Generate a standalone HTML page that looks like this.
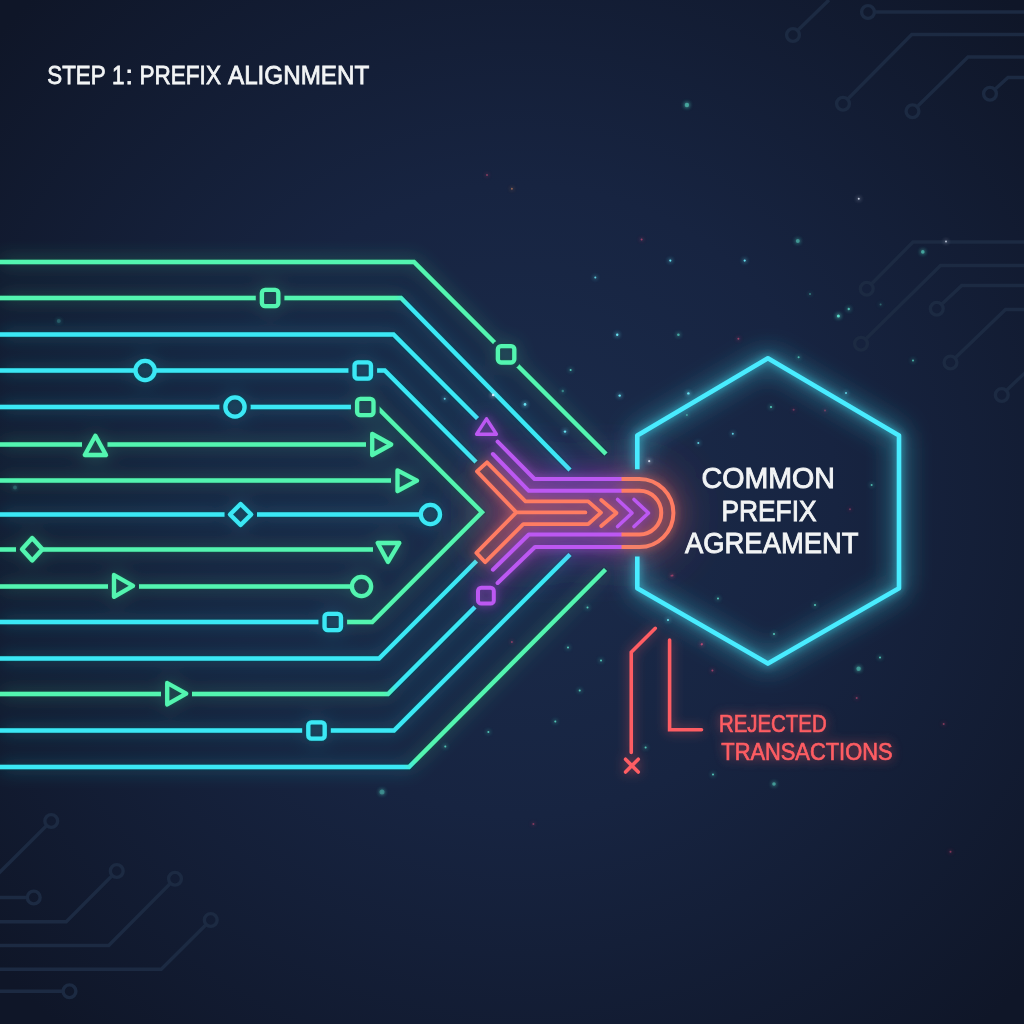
<!DOCTYPE html>
<html><head><meta charset="utf-8">
<style>
html,body{margin:0;padding:0;background:#141c2f;}
body{width:1024px;height:1024px;overflow:hidden;position:relative;}
svg{position:absolute;left:0;top:0;}
.t{font-family:"Liberation Sans",sans-serif;}
</style></head><body>
<svg width="1024" height="1024" viewBox="0 0 1024 1024">
<defs>
<radialGradient id="bg" cx="520" cy="500" r="700" gradientUnits="userSpaceOnUse">
<stop offset="0" stop-color="#1b2c4c"/>
<stop offset="0.45" stop-color="#172441"/>
<stop offset="1" stop-color="#0f1628"/>
</radialGradient>
<filter id="glow" x="-20%" y="-20%" width="140%" height="140%">
<feGaussianBlur in="SourceGraphic" stdDeviation="9" result="b1"/>
<feComponentTransfer in="b1" result="b"><feFuncA type="linear" slope="0.45"/></feComponentTransfer>
<feMorphology in="SourceAlpha" operator="dilate" radius="1.2" result="d"/>
<feFlood flood-color="#0e1628" flood-opacity="0.35"/>
<feComposite in2="d" operator="in" result="dk"/>
<feMerge><feMergeNode in="b"/><feMergeNode in="dk"/><feMergeNode in="SourceGraphic"/></feMerge>
</filter>
<filter id="glowC" x="-30%" y="-30%" width="160%" height="160%">
<feGaussianBlur in="SourceGraphic" stdDeviation="4" result="b1"/>
<feGaussianBlur in="SourceGraphic" stdDeviation="12" result="b2"/>
<feComponentTransfer in="b1" result="b1a"><feFuncA type="linear" slope="0.55"/></feComponentTransfer>
<feComponentTransfer in="b2" result="b3"><feFuncA type="linear" slope="0.7"/></feComponentTransfer>
<feMerge><feMergeNode in="b3"/><feMergeNode in="b1a"/><feMergeNode in="SourceGraphic"/></feMerge>
</filter>
<filter id="glowH" x="-20%" y="-20%" width="140%" height="140%">
<feGaussianBlur in="SourceGraphic" stdDeviation="4" result="b1"/>
<feGaussianBlur in="SourceGraphic" stdDeviation="13" result="b2"/>
<feComponentTransfer in="b1" result="b1a"><feFuncA type="linear" slope="0.7"/></feComponentTransfer>
<feComponentTransfer in="b2" result="b2a"><feFuncA type="linear" slope="1.4"/></feComponentTransfer>
<feMerge><feMergeNode in="b2a"/><feMergeNode in="b1a"/><feMergeNode in="SourceGraphic"/></feMerge>
</filter>
<filter id="glowR" x="-30%" y="-30%" width="160%" height="160%">
<feGaussianBlur in="SourceGraphic" stdDeviation="6" result="b1"/>
<feComponentTransfer in="b1" result="b"><feFuncA type="linear" slope="0.6"/></feComponentTransfer>
<feMerge><feMergeNode in="b"/><feMergeNode in="SourceGraphic"/></feMerge>
</filter>
<linearGradient id="g2" gradientUnits="userSpaceOnUse" x1="395" y1="298" x2="409" y2="306"><stop offset="0" stop-color="#52f5b0"/><stop offset="1" stop-color="#3ae8f5"/></linearGradient>
<linearGradient id="g13" gradientUnits="userSpaceOnUse" x1="384" y1="694" x2="398" y2="686"><stop offset="0" stop-color="#52f5b0"/><stop offset="1" stop-color="#3ae8f5"/></linearGradient>
<linearGradient id="g15" gradientUnits="userSpaceOnUse" x1="403" y1="767" x2="417" y2="759"><stop offset="0" stop-color="#3ae8f5"/><stop offset="1" stop-color="#52f5b0"/></linearGradient>
<filter id="nul" x="-5%" y="-20%" width="110%" height="140%"><feOffset dx="0" dy="0"/></filter>
<filter id="haze" x="-100%" y="-100%" width="300%" height="300%">
<feGaussianBlur stdDeviation="24"/>
</filter>
<filter id="dotg" x="-300%" y="-300%" width="700%" height="700%">
<feGaussianBlur in="SourceGraphic" stdDeviation="2" result="b"/>
<feMerge><feMergeNode in="b"/><feMergeNode in="b"/><feMergeNode in="SourceGraphic"/></feMerge>
</filter>
<mask id="m1" maskUnits="userSpaceOnUse" x="0" y="0" width="1024" height="1024">
<rect x="0" y="0" width="1024" height="1024" fill="white"/>
<rect x="261.90" y="289.80" width="16.4" height="16.4" rx="3.2" fill="black" stroke="black" stroke-width="12.3"/>
<rect x="497.9" y="346.1" width="16.4" height="16.4" rx="3.2" fill="black" stroke="black" stroke-width="13"/>
<circle cx="145.1" cy="370.5" r="9.6" fill="black" stroke="black" stroke-width="0"/>
<rect x="354.55" y="362.30" width="16.4" height="16.4" rx="3.2" fill="black" stroke="black" stroke-width="12.3"/>
<circle cx="235" cy="407" r="9.6" fill="black" stroke="black" stroke-width="12.3"/>
<rect x="357.10" y="398.80" width="16.4" height="16.4" rx="3.2" fill="black" stroke="black" stroke-width="12.3"/>
<polygon points="95.4,435.8 106,455 84.8,455" fill="black"/>
<rect x="82" y="438" width="25.5" height="13" fill="black"/>
<polygon points="372.2,434 391.2,444.5 372.2,455" fill="black"/>
<rect x="366" y="438" width="26" height="13" fill="black"/>
<polygon points="397.5,470.4 417,480.7 397.5,491" fill="black"/>
<rect x="391" y="474" width="27" height="13" fill="black"/>
<polygon points="240.6,504 251.2,514.5 240.6,525 230,514.5" fill="black"/>
<rect x="224.5" y="508" width="32.5" height="13" fill="black"/>
<circle cx="430.4" cy="514.5" r="9.6" fill="black" stroke="black" stroke-width="0"/>
<polygon points="32.2,538 42.4,549.3 32.2,560.5 22,549.3" fill="black"/>
<rect x="16" y="543" width="14" height="13" fill="black"/>
<polygon points="377.7,543 399.3,543 388,562" fill="black"/>
<rect x="373" y="543" width="31" height="13" fill="black"/>
<polygon points="114,575 133,585.9 114,596.8" fill="black"/>
<rect x="108" y="580" width="31" height="13" fill="black"/>
<circle cx="361.5" cy="586.5" r="9.6" fill="black" stroke="black" stroke-width="0"/>
<rect x="324.55" y="613.80" width="16.4" height="16.4" rx="3.2" fill="black" stroke="black" stroke-width="12.3"/>
<polygon points="167.2,683 186.2,693.7 167.2,704.4" fill="black"/>
<rect x="161" y="687" width="31" height="13" fill="black"/>
<rect x="308.30" y="722.30" width="16.4" height="16.4" rx="3.2" fill="black" stroke="black" stroke-width="12.3"/>
</mask>
</defs>
<rect width="1024" height="1024" fill="url(#bg)"/>
<g fill="none" stroke="#1c2a42" stroke-width="3.4">
<path d="M797.59,30.54 L829.00,0.00"/><path d="M874.40,12.00 L1030.00,12.00"/><path d="M847.51,99.21 L911.75,34.50 L1030.00,34.50"/><path d="M917.08,106.78 L968.00,57.00 L1030.00,57.00"/><path d="M994.75,89.46 L1008.00,77.50 L1030.00,77.50"/><path d="M871.25,284.20 L913.00,242.00 L1030.00,242.00"/><path d="M865.56,339.26 L940.50,265.50 L1030.00,265.50"/><path d="M941.44,304.39 L961.75,285.50 L1030.00,285.50"/><path d="M955.11,358.06 L1005.50,309.50 L1030.00,309.50"/><path d="M1006.38,390.58 L1030.00,368.00"/><path d="M46.71,825.52 L-5.00,877.00"/><path d="M27.35,897.50 L-5.00,897.50"/><path d="M112.24,875.54 L66.25,921.75 L-5.00,921.75"/><path d="M170.49,883.29 L108.75,945.50 L-5.00,945.50"/><path d="M206.21,924.51 L161.25,969.25 L-5.00,969.25"/><path d="M63.10,991.25 L-5.00,991.25"/>
<circle cx="793" cy="35" r="6.4"/><circle cx="868" cy="12" r="6.4"/><circle cx="843" cy="103.75" r="6.4"/><circle cx="912.5" cy="111.25" r="6.4"/><circle cx="990" cy="93.75" r="6.4"/><circle cx="866.75" cy="288.75" r="6.4"/><circle cx="861" cy="343.75" r="6.4"/><circle cx="936.75" cy="308.75" r="6.4"/><circle cx="950.5" cy="362.5" r="6.4"/><circle cx="1001.75" cy="395" r="6.4"/><circle cx="51.25" cy="821" r="6.4"/><circle cx="33.75" cy="897.5" r="6.4"/><circle cx="116.75" cy="871" r="6.4"/><circle cx="175" cy="878.75" r="6.4"/><circle cx="210.75" cy="920" r="6.4"/><circle cx="69.5" cy="991.25" r="6.4"/>
</g>
<g filter="url(#haze)">
<rect x="490" y="470" width="150" height="85" rx="40" fill="#6a35a0" opacity="0.45"/>
<rect x="600" y="468" width="80" height="90" rx="40" fill="#a04060" opacity="0.45"/>
<rect x="480" y="470" width="60" height="90" rx="20" fill="#a04050" opacity="0.35"/>
</g>
<g filter="url(#glow)" fill="none" stroke-width="4.3" stroke-linecap="butt" stroke-linejoin="miter">
<g mask="url(#m1)">
<path d="M-5,262 H414 L606,454" stroke="#52f5b0"/><path d="M-5,298 H401 L570,470" stroke="url(#g2)"/><path d="M-5,334.5 H393.5 L477.5,418.5" stroke="#3ae8f5"/><path d="M-5,370.5 H384.75 L476,462" stroke="#3ae8f5"/><path d="M-5,407 H365" stroke="#3ae8f5"/><path d="M365,407 H376.8 L482,512.2 L372.2,622 H333" stroke="#52f5b0"/><path d="M333,622 H-5" stroke="#3ae8f5"/><path d="M-5,444.5 H381" stroke="#52f5b0"/><path d="M-5,480.5 H406" stroke="#52f5b0"/><path d="M-5,514.5 H430" stroke="#3ae8f5"/><path d="M-5,549.5 H388" stroke="#52f5b0"/><path d="M-5,586.5 H361" stroke="#52f5b0"/><path d="M-5,658.5 H379 L476.5,561" stroke="#3ae8f5"/><path d="M-5,694 H388 L475,607" stroke="url(#g13)"/><path d="M-5,730.5 H394 L570,554.5" stroke="#3ae8f5"/><path d="M-5,767 H409 L605.5,569.5" stroke="url(#g15)"/>
</g>
<rect x="261.90" y="289.80" width="16.4" height="16.4" rx="3.2" stroke="#52f5b0" stroke-linejoin="round"/><rect x="497.9" y="346.1" width="16.4" height="16.4" rx="3.2" stroke="#52f5b0" stroke-linejoin="round"/><circle cx="145.1" cy="370.5" r="9.6" stroke="#3ae8f5" stroke-linejoin="round"/><rect x="354.55" y="362.30" width="16.4" height="16.4" rx="3.2" stroke="#3ae8f5" stroke-linejoin="round"/><circle cx="235" cy="407" r="9.6" stroke="#3ae8f5" stroke-linejoin="round"/><rect x="357.10" y="398.80" width="16.4" height="16.4" rx="3.2" stroke="#52f5b0" stroke-linejoin="round"/><polygon points="95.4,435.8 106,455 84.8,455" stroke="#52f5b0" stroke-linejoin="round"/><polygon points="372.2,434 391.2,444.5 372.2,455" stroke="#52f5b0" stroke-linejoin="round"/><polygon points="397.5,470.4 417,480.7 397.5,491" stroke="#52f5b0" stroke-linejoin="round"/><polygon points="240.6,504 251.2,514.5 240.6,525 230,514.5" stroke="#3ae8f5" stroke-linejoin="round"/><circle cx="430.4" cy="514.5" r="9.6" stroke="#3ae8f5" stroke-linejoin="round"/><polygon points="32.2,538 42.4,549.3 32.2,560.5 22,549.3" stroke="#52f5b0" stroke-linejoin="round"/><polygon points="377.7,543 399.3,543 388,562" stroke="#52f5b0" stroke-linejoin="round"/><polygon points="114,575 133,585.9 114,596.8" stroke="#52f5b0" stroke-linejoin="round"/><circle cx="361.5" cy="586.5" r="9.6" stroke="#52f5b0" stroke-linejoin="round"/><rect x="324.55" y="613.80" width="16.4" height="16.4" rx="3.2" stroke="#3ae8f5" stroke-linejoin="round"/><polygon points="167.2,683 186.2,693.7 167.2,704.4" stroke="#52f5b0" stroke-linejoin="round"/><rect x="308.30" y="722.30" width="16.4" height="16.4" rx="3.2" stroke="#3ae8f5" stroke-linejoin="round"/>
</g>
<g filter="url(#glowC)" fill="none" stroke-width="4" stroke-linecap="round" stroke-linejoin="round">
<path d="M497.6,441.6 L534.5,479 H621.5 M492.9,454 L528.8,490.8 H621.5 M492.9,569.7 L528.8,534.5 H621.5 M497.6,583 L535,547 H621.5" stroke="#bc58f2"/>
<polygon points="486.5,418.8 496.4,434.2 476.6,434.2" stroke-width="3.4" stroke="#bc58f2"/><rect x="478" y="587.8" width="15.8" height="15.8" rx="3.2" stroke="#bc58f2"/>
<path d="M621.5,479 H639.4 A34,34 0 0 1 639.4,547 H621.5 M621.5,490.8 H639.4 A21.85,21.85 0 0 1 639.4,534.5 H621.5" stroke="#ff7b62" stroke-linecap="butt"/>
<path d="M487,462.3 L525.5,501.3 H588.2 L601,512.6 L588.2,524.1 H523.3 L485.2,562.2 L476.4,552.9 L516.3,512.4 L477,471.4 Z M516.3,512.4 H585.4" stroke="#ff7b62" stroke-width="3.8"/>
<path d="M601.2,500 L616.5,513 L601.2,526" stroke="#ff7b62" stroke-width="3.8"/>
<path d="M617.6,499.5 L632,513 L617.6,526.5 M634,499.5 L648.5,513 L634,526.5" stroke="#bc58f2" stroke-width="3.6"/>
</g>
<g filter="url(#glowH)" fill="none" stroke="#48ecff" stroke-width="4.6" stroke-linejoin="round">
<path d="M637.3,469.2 V435.6 L767.9,358.3 L899,435.4 V588.3 L767.9,663.6 L637.3,588.3 V556.4"/>
</g>
<g filter="url(#glowR)" fill="none" stroke="#ff5d63" stroke-width="3.6" stroke-linejoin="miter" stroke-linecap="round">
<path d="M655.3,628.3 L631.25,652.2 V752.5"/>
<path d="M669.6,640 V729.7 H701.5"/>
<path d="M625.5,759.2 L638.3,772 M638.3,759.2 L625.5,772"/>
</g>
<g filter="url(#dotg)">
<circle cx="511.9" cy="188.75" r="0.9" fill="#e09060" opacity="0.6"/><circle cx="641.6" cy="239.4" r="1" fill="#e0507a" opacity="0.6"/><circle cx="670.3" cy="260.6" r="1.1" fill="#6ff0ff" opacity="0.9"/><circle cx="744.7" cy="260.6" r="1.1" fill="#6ff0ff" opacity="0.9"/><circle cx="595.3" cy="277.5" r="1" fill="#6ff0ff" opacity="0.8"/><circle cx="617.2" cy="334.7" r="1.2" fill="#6ff0ff" opacity="0.9"/><circle cx="678.4" cy="334.7" r="1.3" fill="#5fe8d0" opacity="0.6"/><circle cx="738.4" cy="338.75" r="1" fill="#e0507a" opacity="0.6"/><circle cx="570.6" cy="370" r="1" fill="#5fe8d0" opacity="0.8"/><circle cx="562.8" cy="391" r="1.2" fill="#5fe8d0" opacity="0.4"/><circle cx="619.7" cy="395.6" r="1.2" fill="#6ff0ff" opacity="0.9"/><circle cx="688.4" cy="393.4" r="1.2" fill="#6ff0ff" opacity="0.9"/><circle cx="493.1" cy="395" r="1.2" fill="#e8f0ff" opacity="0.9"/><circle cx="525" cy="404.4" r="1.3" fill="#6ff0ff" opacity="0.9"/><circle cx="444.7" cy="398.75" r="1" fill="#6ff0ff" opacity="0.8"/><circle cx="686.9" cy="415" r="1" fill="#5fe8d0" opacity="0.5"/><circle cx="565" cy="431.6" r="1.2" fill="#6ff0ff" opacity="0.9"/><circle cx="732.8" cy="433.75" r="1" fill="#6ff0ff" opacity="0.8"/><circle cx="718" cy="598.6" r="1" fill="#5fe8d0" opacity="0.8"/><circle cx="815" cy="605" r="1" fill="#5fe8d0" opacity="0.8"/><circle cx="774" cy="634" r="1" fill="#5fe8d0" opacity="0.8"/><circle cx="668" cy="620" r="1" fill="#6ff0ff" opacity="0.9"/><circle cx="880" cy="657.5" r="1" fill="#5fe8d0" opacity="0.8"/><circle cx="858.6" cy="668.7" r="2.2" fill="#5fe8d0" opacity="0.45"/><circle cx="712.4" cy="670.6" r="1" fill="#e0507a" opacity="0.6"/><circle cx="856.7" cy="698" r="1" fill="#e0507a" opacity="0.5"/><circle cx="943.7" cy="724" r="1" fill="#e0507a" opacity="0.5"/><circle cx="645.6" cy="747.5" r="1" fill="#5fe8d0" opacity="0.8"/><circle cx="713" cy="774.5" r="1" fill="#5fe8d0" opacity="0.8"/><circle cx="774" cy="784" r="1.8" fill="#5fe8d0" opacity="0.5"/><circle cx="950.5" cy="851.7" r="1" fill="#e0507a" opacity="0.5"/><circle cx="702" cy="644" r="1" fill="#e0507a" opacity="0.5"/><circle cx="587.5" cy="607.5" r="1" fill="#5fe8d0" opacity="0.8"/><circle cx="511.9" cy="641.9" r="1" fill="#e0507a" opacity="0.5"/><circle cx="568" cy="647.5" r="1" fill="#5fe8d0" opacity="0.8"/><circle cx="601" cy="660.6" r="1" fill="#5fe8d0" opacity="0.8"/><circle cx="579.7" cy="690.6" r="1" fill="#5fe8d0" opacity="0.8"/><circle cx="555.3" cy="721.6" r="1" fill="#5fe8d0" opacity="0.8"/><circle cx="488.4" cy="731.9" r="1" fill="#5fe8d0" opacity="0.8"/><circle cx="445.3" cy="746.6" r="1" fill="#5fe8d0" opacity="0.8"/><circle cx="533.4" cy="824" r="1" fill="#e0507a" opacity="0.5"/><circle cx="672.5" cy="575.6" r="1" fill="#e0507a" opacity="0.5"/><circle cx="701.6" cy="644.4" r="1" fill="#e0507a" opacity="0.6"/><circle cx="487" cy="175" r="1" fill="#e0507a" opacity="0.5"/><circle cx="686.9" cy="105" r="2.2" fill="#5fe8d0" opacity="0.5"/><circle cx="858.75" cy="198.75" r="1" fill="#e8f0ff" opacity="0.8"/><circle cx="797.8" cy="241" r="2" fill="#5fe8d0" opacity="0.45"/><circle cx="946" cy="241.6" r="1" fill="#e8f0ff" opacity="0.7"/><circle cx="922.8" cy="251.9" r="1.8" fill="#5fe8d0" opacity="0.55"/><circle cx="810" cy="294" r="1" fill="#5fe8d0" opacity="0.4"/><circle cx="848.75" cy="309" r="1.2" fill="#5fe8d0" opacity="0.7"/><circle cx="838.4" cy="316" r="1.5" fill="#5fe8d0" opacity="0.9"/><circle cx="880.6" cy="304.4" r="1" fill="#5fe8d0" opacity="0.3"/><circle cx="798.6" cy="357.3" r="1" fill="#5fe8d0" opacity="0.7"/><circle cx="913" cy="360.6" r="1" fill="#5fe8d0" opacity="0.7"/><circle cx="846" cy="393.1" r="1" fill="#6ff0ff" opacity="0.8"/><circle cx="771" cy="407" r="1.1" fill="#5fe8d0" opacity="0.8"/><circle cx="793.6" cy="409.7" r="1" fill="#e0507a" opacity="0.4"/><circle cx="825" cy="410.4" r="1" fill="#e0507a" opacity="0.4"/><circle cx="698.3" cy="442.9" r="1" fill="#6ff0ff" opacity="0.8"/><circle cx="649.2" cy="461.2" r="1.1" fill="#e8f0ff" opacity="0.8"/><circle cx="871.6" cy="485" r="1" fill="#5fe8d0" opacity="0.7"/><circle cx="850" cy="509.3" r="1" fill="#e0507a" opacity="0.4"/><circle cx="671.4" cy="575.7" r="1" fill="#e0507a" opacity="0.4"/><circle cx="382" cy="792" r="2.5" fill="#5fe8d0" opacity="0.35"/><circle cx="58.75" cy="321" r="2" fill="#5fe8d0" opacity="0.2"/><circle cx="15" cy="487.5" r="2" fill="#5fe8d0" opacity="0.2"/>
</g>
<g class="t" fill="#f2f4f5" stroke="#f2f4f5" stroke-width="0.9" font-size="29" filter="url(#nul)">
<text x="701.5" y="488" textLength="133.5" lengthAdjust="spacingAndGlyphs">COMMON</text>
<text x="721.5" y="520.6" textLength="95" lengthAdjust="spacingAndGlyphs">PREFIX</text>
<text x="685" y="553.1" textLength="173.5" lengthAdjust="spacingAndGlyphs">AGREAMENT</text>
</g>
<g class="t" fill="#ff5d63" stroke="#ff5d63" stroke-width="0.7" font-size="23.3" filter="url(#glowR)">
<text x="719" y="731.9" textLength="107.6" lengthAdjust="spacingAndGlyphs">REJECTED</text>
<text x="721.3" y="760.3" textLength="171.2" lengthAdjust="spacingAndGlyphs">TRANSACTIONS</text>
</g>
<g class="t" filter="url(#nul)" fill="#f2f4f5" stroke="#f2f4f5" stroke-width="0.8" font-size="26.5">
<text x="47.3" y="84.3" textLength="58.3" lengthAdjust="spacingAndGlyphs">STEP</text>
<text x="112" y="84.3" textLength="12.5" lengthAdjust="spacingAndGlyphs">1</text>
<text x="125.5" y="84.3">:</text>
<text x="139.6" y="84.3" textLength="81.3" lengthAdjust="spacingAndGlyphs">PREFIX</text>
<text x="228" y="84.3" textLength="141.3" lengthAdjust="spacingAndGlyphs">ALIGNMENT</text>
</g>
</svg>
</body></html>
